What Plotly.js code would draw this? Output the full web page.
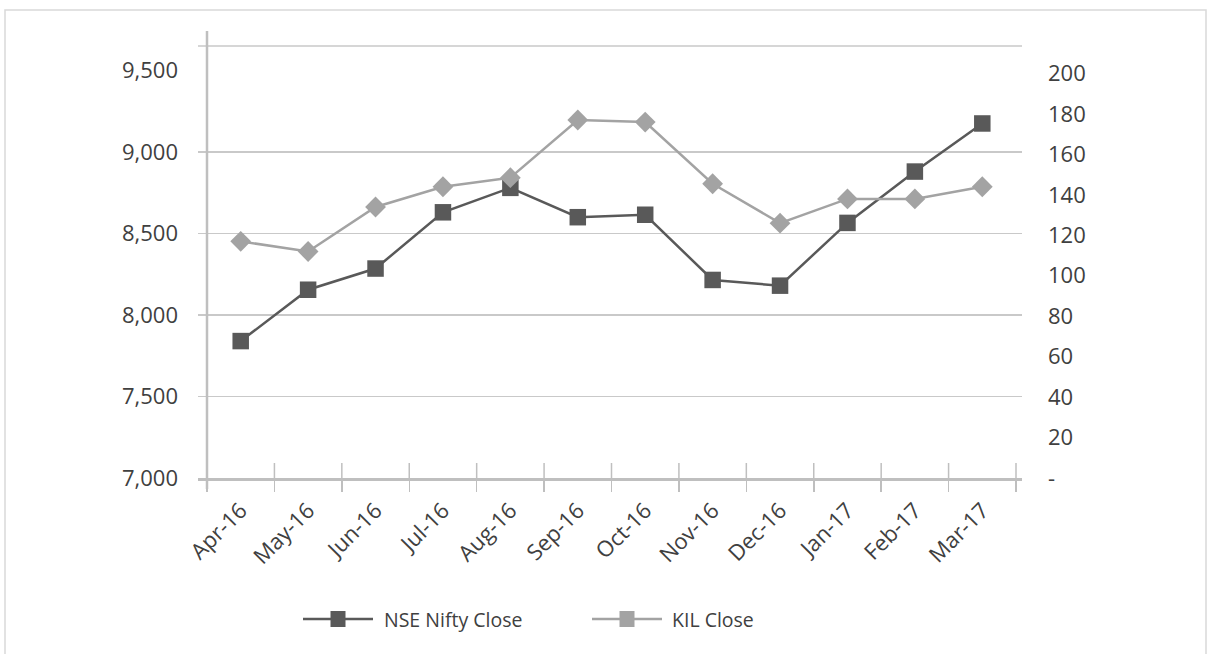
<!DOCTYPE html>
<html>
<head>
<meta charset="utf-8">
<script src="https://cdn.plot.ly/plotly-3.0.1.min.js"></script>
<style>
  html, body { margin: 0; padding: 0; background: #ffffff; }
  #chart { width: 1216px; height: 654px; }
</style>
</head>
<body>
<div id="chart"></div>
<script>
// ---- data ----
const months = ['Apr-16', 'May-16', 'Jun-16', 'Jul-16', 'Aug-16', 'Sep-16',
                'Oct-16', 'Nov-16', 'Dec-16', 'Jan-17', 'Feb-17', 'Mar-17'];
const niftyName = 'NSE Nifty Close';
const kilName = 'KIL Close';
const niftyClose = [7840, 8155, 8285, 8630, 8780, 8600, 8615, 8215, 8180, 8565, 8880, 9175];
const kilClose = [117, 112, 134, 144, 148.5, 177, 176, 145.5, 126, 138, 138, 144];
const leftTicks = [7000, 7500, 8000, 8500, 9000, 9500];
const gridValues = [7500, 8000, 8500, 9000];
const rightTicks = [0, 20, 40, 60, 80, 100, 120, 140, 160, 180, 200];
const rightTickText = ['-', '20', '40', '60', '80', '100', '120', '140', '160', '180', '200'];

// ---- style ----
const FONT = 'Open Sans, Noto Sans, sans-serif';
const TEXT = '#404040';
const DARK = '#595959';
const LIGHT = '#a3a3a3';
const AXIS = '#bfbfbf';
const GRID = '#c9c9c9';
const FS = 22;
const LEGEND_FS = 19.5;

// plot area geometry (pixels)
const L = 198, R = 1022, T = 46, B = 478;
const W = R - L, H = B - T;
const catStart = 207, catEnd = 1016;
const catW = (catEnd - catStart) / months.length;
const px = v => (v - L) / W;
const py = v => (B - v) / H;

const leftMax = 7000 + H / 0.163;
const rightMax = H / 2.0225;

const traces = [
  {
    type: 'scatter', mode: 'lines+markers', name: niftyName,
    x: months, y: niftyClose, yaxis: 'y',
    line: { color: DARK, width: 2.5 },
    marker: { symbol: 'square', size: 16.5, color: DARK },
    showlegend: false, cliponaxis: false
  },
  {
    type: 'scatter', mode: 'lines+markers', name: kilName,
    x: months, y: kilClose, yaxis: 'y2',
    line: { color: LIGHT, width: 2.5 },
    marker: { symbol: 'diamond', size: 16, color: LIGHT },
    showlegend: false, cliponaxis: false
  },
  { type: 'scatter', mode: 'markers', x: [], y: [], yaxis: 'y3', showlegend: false, hoverinfo: 'skip' }
];

const shapes = [];
// outer chart border
shapes.push({ type: 'rect', xref: 'paper', yref: 'paper',
  x0: px(5), x1: px(1206), y0: py(700), y1: py(10),
  line: { color: '#d9d9d9', width: 1.5 }, fillcolor: 'rgba(0,0,0,0)', layer: 'below' });
// top border line of plot area
shapes.push({ type: 'line', xref: 'paper', yref: 'paper', x0: 0, x1: 1, y0: 1, y1: 1,
  line: { color: GRID, width: 1.3 } });
// left value axis line (extends past the plot area)
shapes.push({ type: 'line', xref: 'paper', yref: 'paper',
  x0: px(catStart), x1: px(catStart), y0: py(489), y1: py(31),
  line: { color: AXIS, width: 2.5 } });
// inner part of the crossing category tick marks
for (let i = 0; i <= months.length; i++) {
  shapes.push({ type: 'line', xref: 'x', yref: 'paper',
    x0: i - 0.5, x1: i - 0.5, y0: 0, y1: 15 / H,
    line: { color: AXIS, width: 1.5 } });
}

// manual legend
const legendY = py(619);
const annotations = [];
function legendItem(x0, x1, color, name, textX) {
  shapes.push({ type: 'line', xref: 'paper', yref: 'paper',
    x0: px(x0), x1: px(x1), y0: legendY, y1: legendY,
    line: { color: color, width: 2.5 } });
  const c = (x0 + x1) / 2;
  shapes.push({ type: 'rect', xref: 'paper', yref: 'paper',
    x0: px(c - 7.5), x1: px(c + 7.5), y0: py(619 + 8), y1: py(619 - 8),
    line: { width: 0 }, fillcolor: color });
  annotations.push({ xref: 'paper', yref: 'paper', x: px(textX), y: legendY,
    xanchor: 'left', yanchor: 'middle', showarrow: false, text: name,
    font: { family: FONT, size: LEGEND_FS, color: TEXT } });
}
legendItem(303, 373, DARK, niftyName, 382);
legendItem(592, 662, LIGHT, kilName, 670);

const layout = {
  width: 1216, height: 654,
  margin: { l: L, r: 1216 - R, t: T, b: 654 - B, pad: 0 },
  paper_bgcolor: '#ffffff', plot_bgcolor: '#ffffff',
  font: { family: FONT, size: FS, color: TEXT },
  showlegend: false,
  xaxis: {
    type: 'category',
    range: [-0.5 - (catStart - L) / catW, months.length - 0.5 + (R - catEnd) / catW],
    tickson: 'boundaries', ticks: 'outside', ticklen: 11, tickwidth: 1.5, tickcolor: AXIS,
    showline: true, linecolor: AXIS, linewidth: 3,
    showgrid: false, zeroline: false, tickangle: -45,
    ticklabelstandoff: 8,
    tickfont: { family: FONT, size: FS, color: TEXT },
    fixedrange: true
  },
  yaxis: {
    range: [7000, leftMax], tickmode: 'array', tickvals: leftTicks, tickformat: ',d',
    showgrid: false, zeroline: false, showline: false, ticks: '',
    ticklabelstandoff: 19,
    tickfont: { family: FONT, size: FS, color: TEXT }, fixedrange: true
  },
  yaxis3: {
    overlaying: 'y', side: 'left', range: [7000, leftMax],
    tickmode: 'array', tickvals: gridValues, showticklabels: false,
    showgrid: true, gridcolor: GRID, gridwidth: 1.3,
    zeroline: false, showline: false, ticks: '', fixedrange: true
  },
  yaxis2: {
    overlaying: 'y', side: 'right', range: [0, rightMax],
    tickmode: 'array', tickvals: rightTicks, ticktext: rightTickText,
    showgrid: false, zeroline: false, showline: false, ticks: '',
    ticklabelstandoff: 25,
    tickfont: { family: FONT, size: FS, color: TEXT }, fixedrange: true
  },
  shapes: shapes,
  annotations: annotations
};

Plotly.newPlot('chart', traces, layout, { staticPlot: true, displayModeBar: false });
</script>
</body>
</html>
